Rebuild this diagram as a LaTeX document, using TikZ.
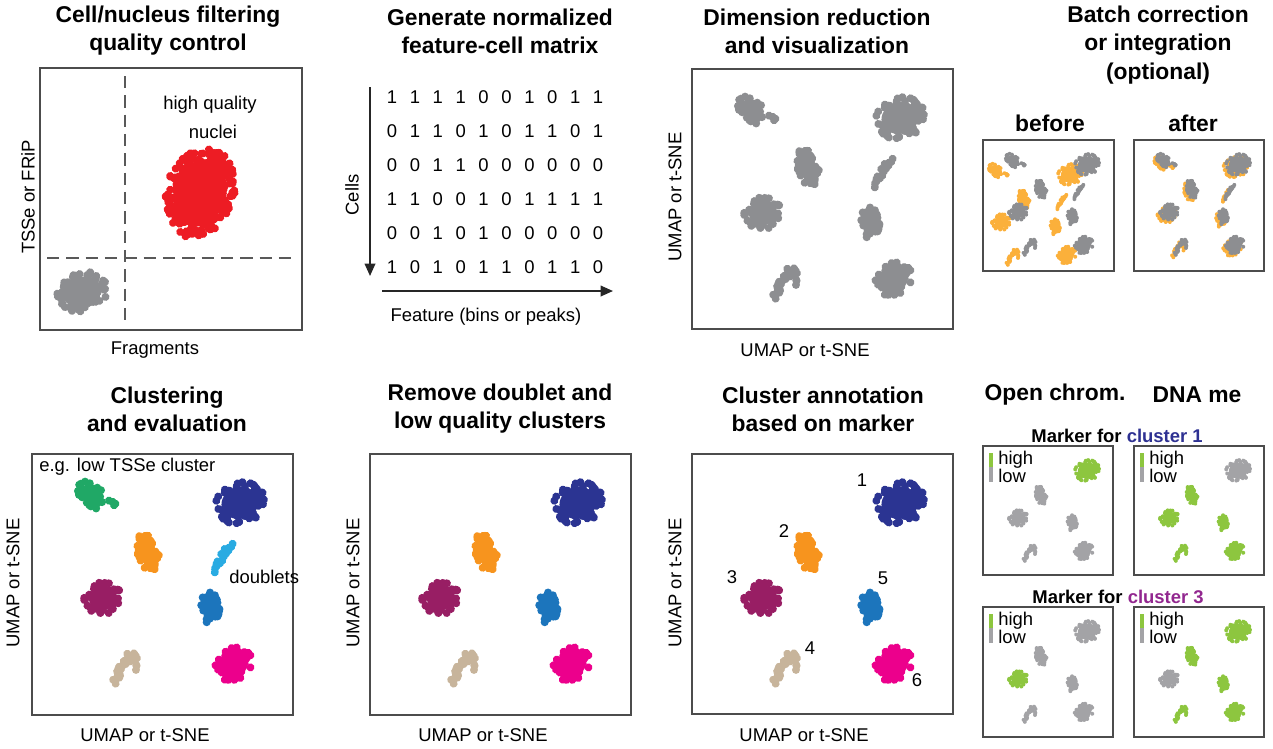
\documentclass[tikz,border=0pt]{standalone}
\usepackage{fontspec}
\setmainfont{Liberation Sans}
\usetikzlibrary{arrows.meta}

\definecolor{clgray}{RGB}{141,142,145}
\definecolor{mkgray}{RGB}{163,163,166}
\definecolor{qcred}{RGB}{237,28,36}
\definecolor{clgreen}{RGB}{32,168,102}
\definecolor{cldarkblue}{RGB}{43,52,146}
\definecolor{clorange}{RGB}{247,148,30}
\definecolor{cllightblue}{RGB}{41,171,226}
\definecolor{clwine}{RGB}{152,30,100}
\definecolor{clmidblue}{RGB}{28,117,188}
\definecolor{cltan}{RGB}{199,180,155}
\definecolor{clpink}{RGB}{236,0,140}
\definecolor{batchorange}{RGB}{251,176,59}
\definecolor{mkgreen}{RGB}{141,198,63}
\definecolor{txtblue}{RGB}{46,49,146}
\definecolor{txtpurple}{RGB}{146,39,143}

% one cluster of dots: colour, cx, cy, rx, ry, angle, number of dots, seed
\newcommand{\blob}[8]{%
  \pgfmathsetseed{#8}%
  \begin{scope}[shift={(#2,#3)}, rotate=#6]
    \fill[#1] (0,0) ellipse[x radius={0.75*#4}, y radius={0.75*#5}];
    \foreach \k in {1,...,#7}{%
      \pgfmathsetmacro{\blobr}{sqrt(rnd)}%
      \pgfmathsetmacro{\bloba}{360*rnd}%
      \fill[#1] ({#4*\blobr*cos(\bloba)}, {#5*\blobr*sin(\bloba)}) circle[radius=4];
    }%
  \end{scope}}

% the clusters of the embedding, in box coordinates
\newcommand{\umapA}[1]{\blob{#1}{59}{41}{16}{11}{-45}{35}{101}\blob{#1}{80}{48}{5}{3}{-20}{5}{102}}
\newcommand{\umapB}[1]{\blob{#1}{208}{49}{25}{21}{15}{100}{103}}
\newcommand{\umapC}[1]{\blob{#1}{116}{99}{20}{11}{-72}{45}{104}}
\newcommand{\umapD}[1]{\blob{#1}{192}{101}{20}{3}{61}{20}{105}}
\newcommand{\umapE}[1]{\blob{#1}{71}{144}{19}{16}{10}{70}{106}}
\newcommand{\umapF}[1]{\blob{#1}{178}{154}{10}{16}{0}{35}{107}}
\newcommand{\umapG}[1]{\blob{#1}{97}{205}{10}{6}{20}{14}{108}\blob{#1}{85}{221}{4}{9}{-10}{9}{109}\blob{#1}{105}{214}{3}{3}{0}{3}{112}}
\newcommand{\umapH}[1]{\blob{#1}{202}{210}{19}{17}{25}{70}{110}}

\newcommand{\mklegend}{%
  \fill[mkgreen] (12,14) rectangle (20,42);
  \fill[mkgray] (12,42) rectangle (20,72);}

\begin{document}
\begin{tikzpicture}[x=0.02cm, y=-0.02cm,
  plotbox/.style={draw=black!70, line width=0.8pt},
  title/.style={font=\fontsize{13}{16}\selectfont\bfseries, align=center},
  label/.style={font=\fontsize{10.5}{12}\selectfont, inner sep=0pt},
  digit/.style={font=\fontsize{10.5}{12}\selectfont, inner sep=0pt},
  axisarrow/.style={-{Triangle[length=7pt,width=6pt]}, line width=1pt, draw=black!85},
  qcdash/.style={draw=black!65, line width=0.9pt, dash pattern=on 7pt off 4pt}
  ]
  \useasboundingbox (0,0) rectangle (1273,748);

  % Cell/nucleus filtering
  \node[title] (t1) at (168,31) {Cell/nucleus filtering\\quality control};
  \draw[plotbox] (40,68) rectangle (302,330);
  \coordinate (vtop) at (125,76);
  \coordinate (vbot) at (125,323);
  \coordinate (hleft) at (47,258);
  \coordinate (hright) at (295,258);
  \draw[qcdash] (vtop) -- (vbot);
  \draw[qcdash] (hleft) -- (hright);
  \blob{qcred}{200}{193}{46}{34}{72}{290}{1}
  \blob{clgray}{82}{292}{26}{20}{15}{100}{2}
  \node[label] (hq1) at (210,105) {high quality};
  \node[label] (hq2) at (213,132) {nuclei};
  \node[label] (frag) at (155,350) {Fragments};
  \node[label, rotate=90] (tsse) at (28,197) {TSSe or FRiP};

  % feature-cell matrix
  \node[title] (t2) at (500,31) {Generate normalized\\feature-cell matrix};
  \foreach \row [count=\r] in {{1,1,1,1,0,0,1,0,1,1},{0,1,1,0,1,0,1,1,0,1},
      {0,0,1,1,0,0,0,0,0,0},{1,1,0,0,1,0,1,1,1,1},
      {0,0,1,0,1,0,0,0,0,0},{1,0,1,0,1,1,0,1,1,0}}{
    \foreach \d [count=\c] in \row{
      \node[digit] (m\r-\c) at ({392+22.9*(\c-1)},{97+34*(\r-1)}) {\d};
    }
  }
  \coordinate (celltop) at (370,87);
  \coordinate (cellbot) at (370,276);
  \coordinate (featleft) at (382,291);
  \coordinate (featright) at (613,291);
  \draw[axisarrow] (celltop) -- (cellbot);
  \draw[axisarrow] (featleft) -- (featright);
  \node[label, rotate=90] (cells) at (352,195) {Cells};
  \node[label] (feat) at (486,317) {Feature (bins or peaks)};

  % dimension reduction
  \node[title] (t3) at (817,31) {Dimension reduction\\and visualization};
  \draw[plotbox] (692,69) rectangle (953,329);
  \begin{scope}[shift={(692,69)}]
    \umapA{clgray}\umapB{clgray}\umapC{clgray}\umapD{clgray}
    \umapE{clgray}\umapF{clgray}\umapG{clgray}\umapH{clgray}
  \end{scope}
  \node[label, rotate=90] (dimy) at (675,197) {UMAP or t-SNE};
  \node[label] (dimx) at (805,350) {UMAP or t-SNE};

  % batch correction
  \node[title] (t4) at (1158,45) {Batch correction\\or integration\\(optional)};
  \node[title] (before) at (1050,123) {before};
  \node[title] (after) at (1193,123) {after};
  \draw[plotbox] (983,140) rectangle (1114,271);
  \draw[plotbox] (1134,140) rectangle (1264,271);
  \begin{scope}[shift={(983,140)}, scale=0.5]
    \begin{scope}[shift={(-34,20)}]
      \umapA{batchorange}\umapB{batchorange}\umapC{batchorange}\umapD{batchorange}
      \umapE{batchorange}\umapF{batchorange}\umapG{batchorange}\umapH{batchorange}
    \end{scope}
    \umapA{clgray}\umapB{clgray}\umapC{clgray}\umapD{clgray}
    \umapE{clgray}\umapF{clgray}\umapG{clgray}\umapH{clgray}
  \end{scope}
  \begin{scope}[shift={(1134,140)}, scale=0.5]
    \begin{scope}[shift={(-5,5)}]
      \umapA{batchorange}\umapB{batchorange}\umapC{batchorange}\umapD{batchorange}
      \umapE{batchorange}\umapF{batchorange}\umapG{batchorange}\umapH{batchorange}
    \end{scope}
    \umapA{clgray}\umapB{clgray}\umapC{clgray}\umapD{clgray}
    \umapE{clgray}\umapF{clgray}\umapG{clgray}\umapH{clgray}
  \end{scope}

  % clustering
  \node[title] (t5) at (167,409) {Clustering\\and evaluation};
  \draw[plotbox] (32,454) rectangle (293,715);
  \begin{scope}[shift={(32,454)}]
    \umapA{clgreen}\umapB{cldarkblue}\umapC{clorange}\umapD{cllightblue}
    \umapE{clwine}\umapF{clmidblue}\umapG{cltan}\umapH{clpink}
  \end{scope}
  \node[label, anchor=west] (lowtsse) at (39,467) {e.g. low TSSe cluster};
  \node[label, anchor=west] (doublets) at (229,577) {doublets};
  \node[label, rotate=90] (cly) at (13,583) {UMAP or t-SNE};
  \node[label] (clx) at (145,735) {UMAP or t-SNE};

  % remove doublets
  \node[title] (t6) at (500,409) {Remove doublet and\\low quality clusters};
  \draw[plotbox] (370,454) rectangle (631,715);
  \begin{scope}[shift={(370,454)}]
    \umapB{cldarkblue}\umapC{clorange}
    \umapE{clwine}\umapF{clmidblue}\umapG{cltan}\umapH{clpink}
  \end{scope}
  \node[label, rotate=90] (rmy) at (353,583) {UMAP or t-SNE};
  \node[label] (rmx) at (483,735) {UMAP or t-SNE};

  % annotation
  \node[title] (t7) at (823,409) {Cluster annotation\\based on marker};
  \draw[plotbox] (692,454) rectangle (953,714);
  \begin{scope}[shift={(692,454)}]
    \umapB{cldarkblue}\umapC{clorange}
    \umapE{clwine}\umapF{clmidblue}\umapG{cltan}\umapH{clpink}
  \end{scope}
  \node[label] (n1) at (862,480) {1};
  \node[label] (n2) at (784,531) {2};
  \node[label] (n3) at (732,577) {3};
  \node[label] (n5) at (883,578) {5};
  \node[label] (n4) at (810,648) {4};
  \node[label] (n6) at (917,680) {6};
  \node[label, rotate=90] (any) at (675,583) {UMAP or t-SNE};
  \node[label] (anx) at (804,735) {UMAP or t-SNE};

  % marker panels
  \node[title] (open) at (1055,395) {Open chrom.};
  \node[title] (dname) at (1197,395) {DNA me};
  \node[label, font=\fontsize{10.5}{12}\selectfont\bfseries] (mk1) at (1117,436)
    {Marker for \textcolor{txtblue}{cluster 1}};
  \node[label, font=\fontsize{10.5}{12}\selectfont\bfseries] (mk3) at (1118,597)
    {Marker for \textcolor{txtpurple}{cluster 3}};
  \draw[plotbox] (983,446) rectangle (1113,575);
  \draw[plotbox] (1134,446) rectangle (1264,575);
  \draw[plotbox] (983,607) rectangle (1113,737);
  \draw[plotbox] (1134,607) rectangle (1264,737);
  \begin{scope}[shift={(983,446)}, scale=0.5]
    \mklegend
    \umapB{mkgreen}\umapC{mkgray}\umapE{mkgray}\umapF{mkgray}\umapG{mkgray}\umapH{mkgray}
    \node[label, anchor=west] (hi1) at (30,27) {high};
    \node[label, anchor=west] (lo1) at (30,60) {low};
  \end{scope}
  \begin{scope}[shift={(1134,446)}, scale=0.5]
    \mklegend
    \umapB{mkgray}\umapC{mkgreen}\umapE{mkgreen}\umapF{mkgreen}\umapG{mkgreen}\umapH{mkgreen}
    \node[label, anchor=west] (hi2) at (30,27) {high};
    \node[label, anchor=west] (lo2) at (30,60) {low};
  \end{scope}
  \begin{scope}[shift={(983,607)}, scale=0.5]
    \mklegend
    \umapB{mkgray}\umapC{mkgray}\umapE{mkgreen}\umapF{mkgray}\umapG{mkgray}\umapH{mkgray}
    \node[label, anchor=west] (hi3) at (30,27) {high};
    \node[label, anchor=west] (lo3) at (30,60) {low};
  \end{scope}
  \begin{scope}[shift={(1134,607)}, scale=0.5]
    \mklegend
    \umapB{mkgreen}\umapC{mkgreen}\umapE{mkgray}\umapF{mkgreen}\umapG{mkgreen}\umapH{mkgreen}
    \node[label, anchor=west] (hi4) at (30,27) {high};
    \node[label, anchor=west] (lo4) at (30,60) {low};
  \end{scope}
\end{tikzpicture}
\end{document}
